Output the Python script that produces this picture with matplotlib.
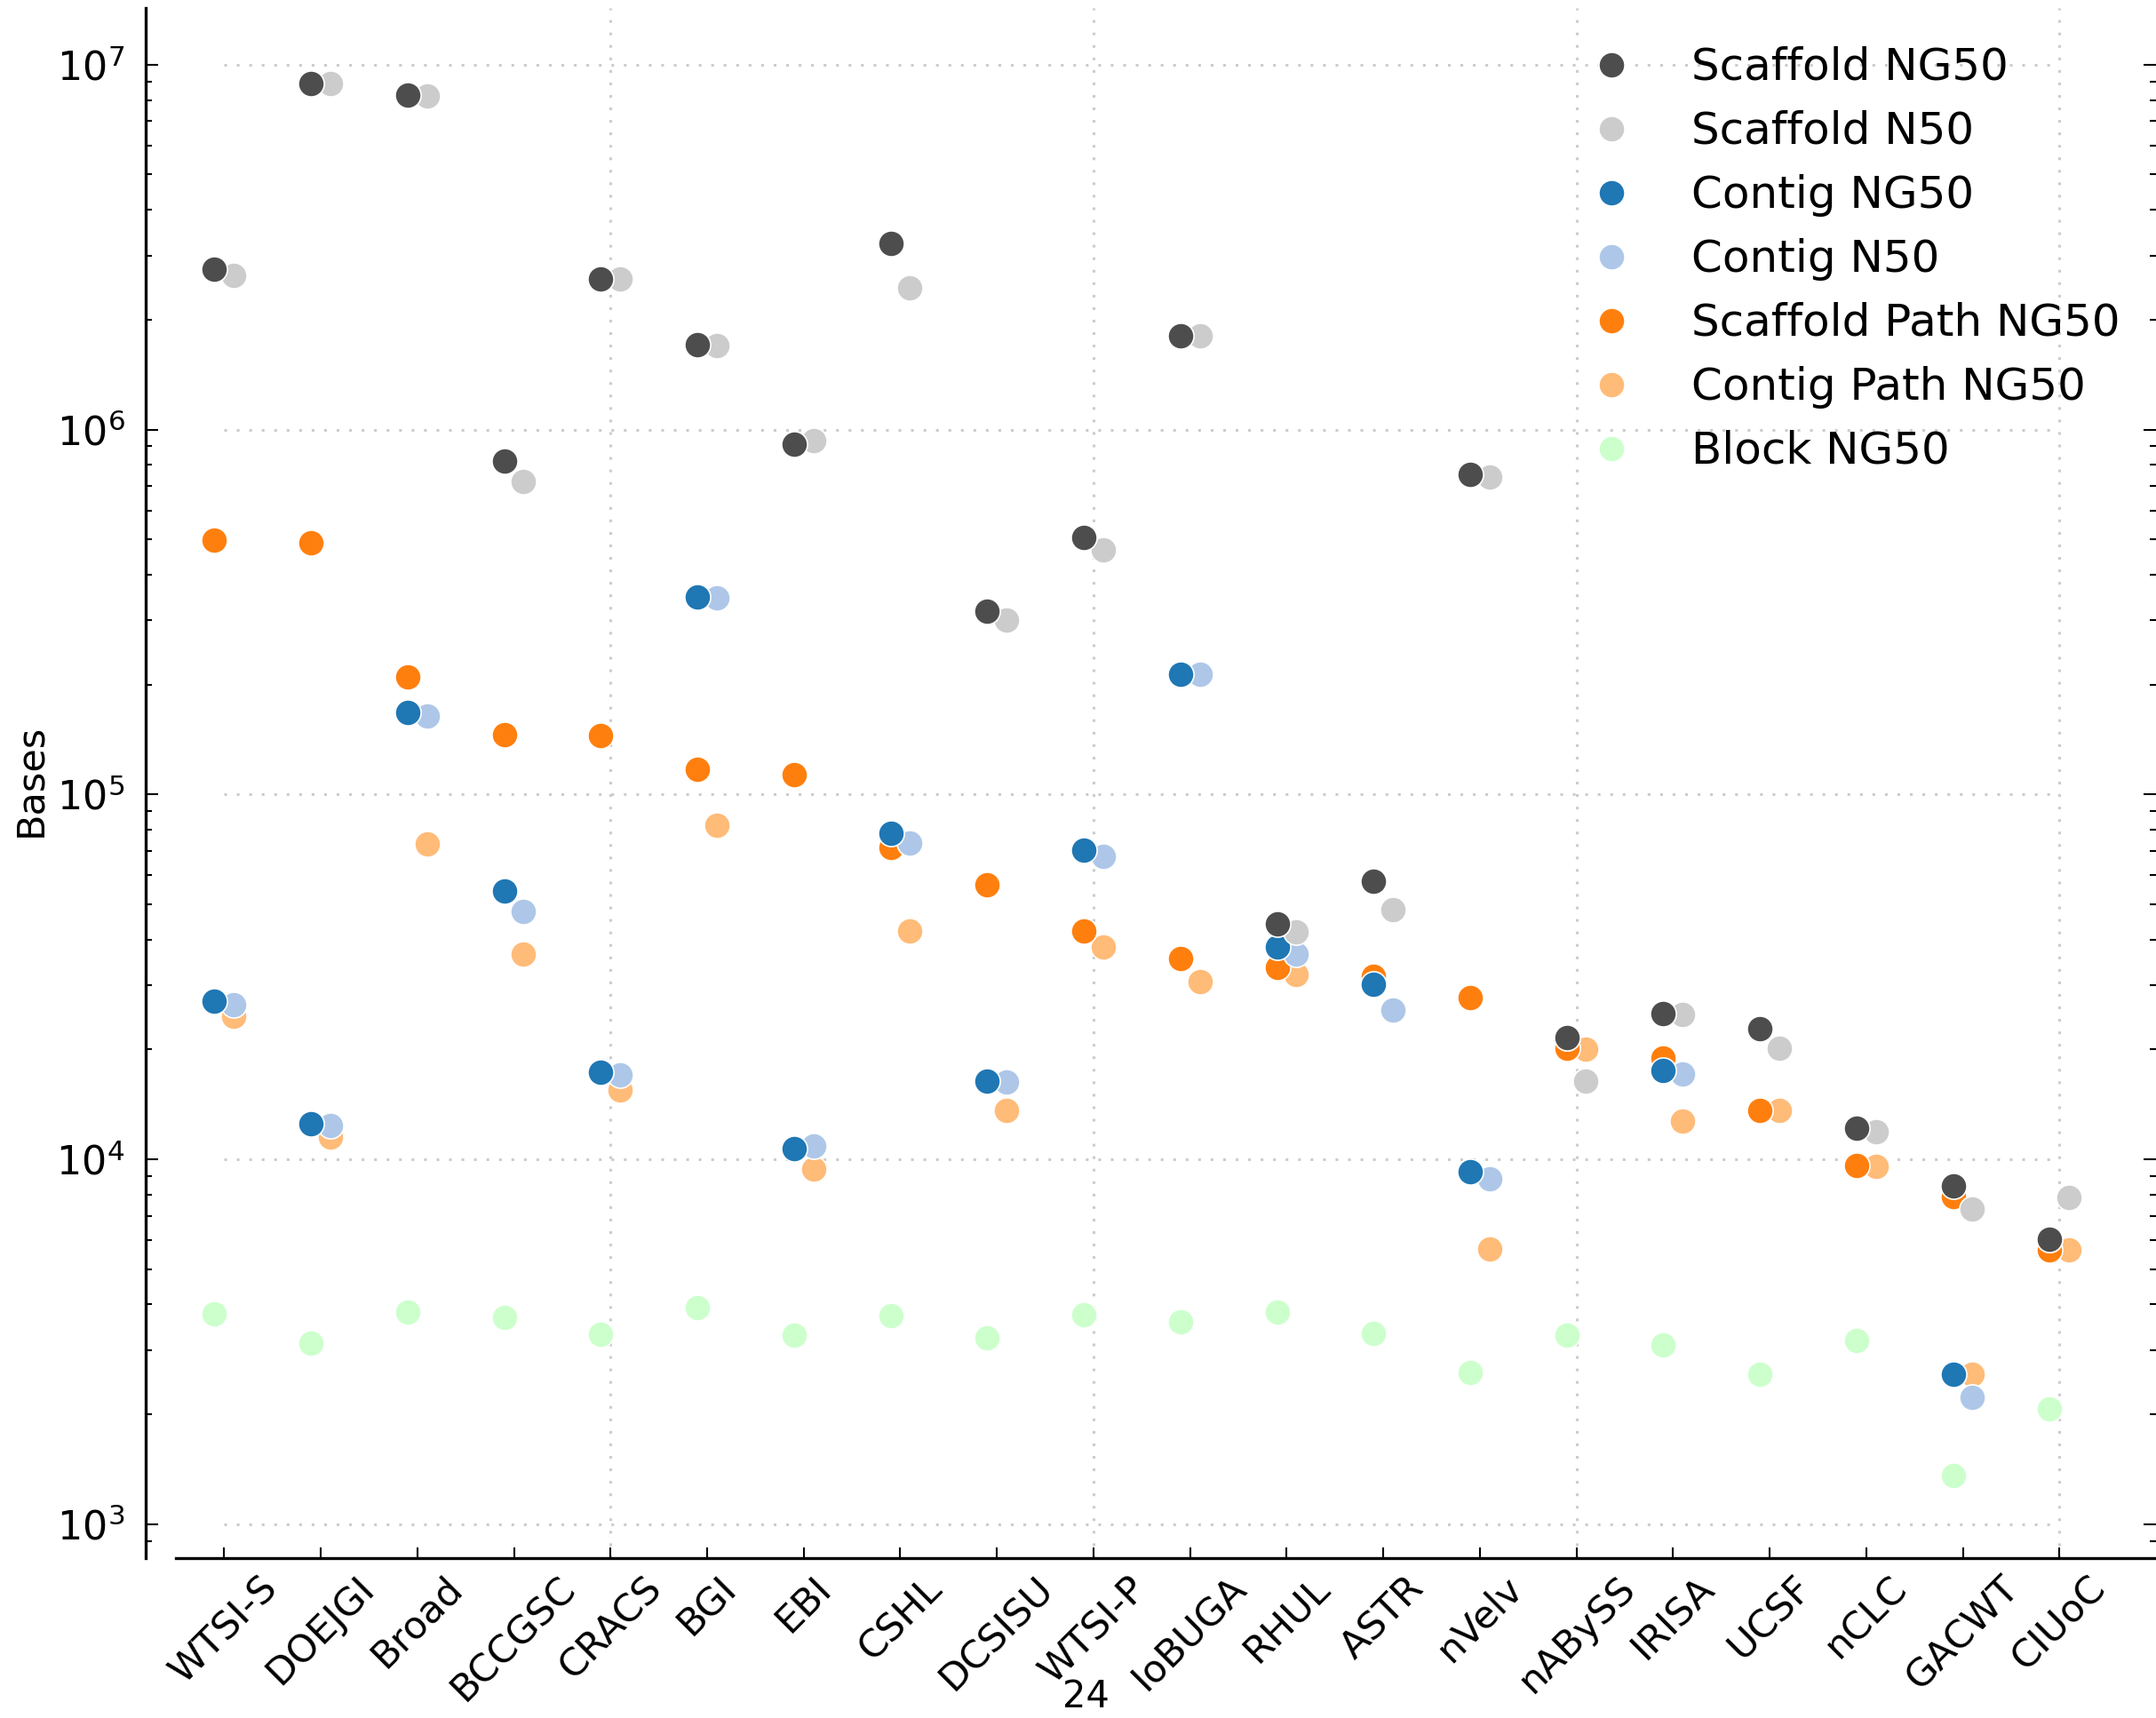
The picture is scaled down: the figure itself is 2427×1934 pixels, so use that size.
import numpy as np
import matplotlib
matplotlib.use("Agg")
import matplotlib.pyplot as plt
from matplotlib.ticker import LogLocator, NullFormatter

categories = ["WTSI-S", "DOEJGI", "Broad", "BCCGSC", "CRACS", "BGI", "EBI", "CSHL",
              "DCSISU", "WTSI-P", "IoBUGA", "RHUL", "ASTR", "nVelv", "nABySS",
              "IRISA", "UCSF", "nCLC", "GACWT", "CIUoC"]

scaffold_ng50 = [2.75e6, 8.87e6, 8.27e6, 8.22e5, 2.59e6, 1.71e6, 9.12e5, 3.24e6,
                 3.17e5, 5.06e5, 1.81e6, 4.42e4, 5.78e4, 7.54e5, 2.16e4,
                 2.51e4, 2.28e4, 1.22e4, 8.47e3, 6.05e3]
scaffold_n50 = [2.65e6, 8.9e6, 8.2e6, 7.22e5, 2.59e6, 1.70e6, 9.35e5, 2.45e6,
                3.0e5, 4.68e5, 1.81e6, 4.19e4, 4.82e4, 7.41e5, 1.64e4,
                2.5e4, 2.02e4, 1.19e4, 7.31e3, 7.85e3]
contig_ng50 = [2.72e4, 1.25e4, 1.68e5, 5.44e4, 1.73e4, 3.48e5, 1.07e4, 7.83e4,
               1.64e4, 7.05e4, 2.14e5, 3.81e4, 3.02e4, 9.25e3, 2.16e4,
               1.75e4, 2.28e4, 1.22e4, 2.57e3, 6.05e3]
contig_n50 = [2.65e4, 1.24e4, 1.64e5, 4.77e4, 1.70e4, 3.45e5, 1.09e4, 7.37e4,
              1.63e4, 6.75e4, 2.14e5, 3.65e4, 2.56e4, 8.86e3, 1.64e4,
              1.71e4, 2.02e4, 1.19e4, 2.23e3, 7.85e3]
scaffold_path_ng50 = [4.97e5, 4.89e5, 2.10e5, 1.46e5, 1.45e5, 1.17e5, 1.13e5, 7.17e4,
                      5.64e4, 4.23e4, 3.56e4, 3.35e4, 3.18e4, 2.77e4, 2.02e4,
                      1.89e4, 1.36e4, 9.6e3, 7.9e3, 5.65e3]
contig_path_ng50 = [2.47e4, 1.15e4, 7.31e4, 3.65e4, 1.55e4, 8.25e4, 9.4e3, 4.23e4,
                    1.36e4, 3.81e4, 3.07e4, 3.21e4, 2.56e4, 5.69e3, 2.0e4,
                    1.27e4, 1.36e4, 9.55e3, 2.57e3, 5.65e3]
block_ng50 = [3.78e3, 3.13e3, 3.81e3, 3.68e3, 3.31e3, 3.92e3, 3.3e3, 3.72e3,
              3.24e3, 3.75e3, 3.59e3, 3.81e3, 3.34e3, 2.61e3, 3.29e3,
              3.1e3, 2.57e3, 3.18e3, 1.36e3, 2.07e3]

series_labels = ["Scaffold NG50", "Scaffold N50", "Contig NG50", "Contig N50",
                 "Scaffold Path NG50", "Contig Path NG50", "Block NG50"]
series_values = [scaffold_ng50, scaffold_n50, contig_ng50, contig_n50,
                 scaffold_path_ng50, contig_path_ng50, block_ng50]
series_colors = ["#4d4d4d", "#cccccc", "#1f77b4", "#aec7e8",
                 "#ff7f0e", "#ffbb78", "#ccffcc"]
series_offsets = [-0.1, 0.1, -0.1, 0.1, -0.1, 0.1, -0.1]

W, H = 2427, 1934
DPI = 100
fig = plt.figure(figsize=(W / DPI, H / DPI), dpi=DPI)
ax_left, ax_right = 198 / W, 1.0
ax_top, ax_bot = 1 - 9 / H, 1 - 1754 / H
ax = fig.add_axes([ax_left, ax_bot, ax_right - ax_left, ax_top - ax_bot])

x = np.arange(len(categories))
handles = {}
for i in reversed(range(len(series_labels))):
    ln, = ax.plot(x + series_offsets[i], series_values[i], linestyle="none",
                  marker="o", markersize=21, markerfacecolor=series_colors[i],
                  markeredgecolor="white", markeredgewidth=1.2,
                  label=series_labels[i], zorder=3 + (len(series_labels) - i) * 0.1)
    handles[i] = ln

ax.set_yscale("log")
ax.set_ylim(807, 1.43e7)
ax.set_xlim(-0.5, 20.0)

grid_kw = dict(color="#cccccc", linewidth=2.2, linestyle=(0, (1, 3.6)), zorder=1)
for yv in [1e3, 1e4, 1e5, 1e6, 1e7]:
    ax.hlines(yv, 0, len(categories) - 1, **grid_kw)
for xv in [4, 9, 14, 19]:
    ax.axvline(xv, **grid_kw)

ax.set_xticks(x)
ax.set_xticklabels(categories, rotation=45, ha="center", fontsize=31)
ax.yaxis.set_major_locator(LogLocator(base=10, numticks=20))
ax.yaxis.set_minor_locator(LogLocator(base=10, subs=np.arange(2, 10), numticks=20))
ax.yaxis.set_minor_formatter(NullFormatter())

for s in ["top", "right"]:
    ax.spines[s].set_visible(False)
ax.spines["left"].set_position(("outward", 24.5))
ax.spines["left"].set_linewidth(2.4)
ax.spines["bottom"].set_linewidth(2.4)

ax.tick_params(axis="y", which="both", direction="in", left=True, right=True,
               labelsize=32, pad=17)
ax.tick_params(axis="y", which="major", length=10, width=1.5)
ax.tick_params(axis="y", which="minor", length=5, width=1.5)
ax.tick_params(axis="x", which="major", direction="in", length=9, width=1.5,
               top=False, pad=9)
ax.tick_params(axis="x", which="minor", bottom=False, top=False)

fig.text(34 / W, 1 - 878 / H, "Bases", rotation=90, ha="center", va="center",
         fontsize=31)
fig.text(1222 / W, 1 - 1922 / H, "24", ha="center", va="baseline", fontsize=30)

leg_handles = [handles[i] for i in range(len(series_labels))]
ax.legend(leg_handles, series_labels, loc="upper left", frameon=False,
          bbox_to_anchor=(1744 / W, 1 - 32 / H), bbox_transform=fig.transFigure,
          borderaxespad=0, fontsize=36, numpoints=1, handlelength=2.0,
          handletextpad=0.8, labelspacing=0.48)

fig.savefig("out.png", dpi=DPI)
